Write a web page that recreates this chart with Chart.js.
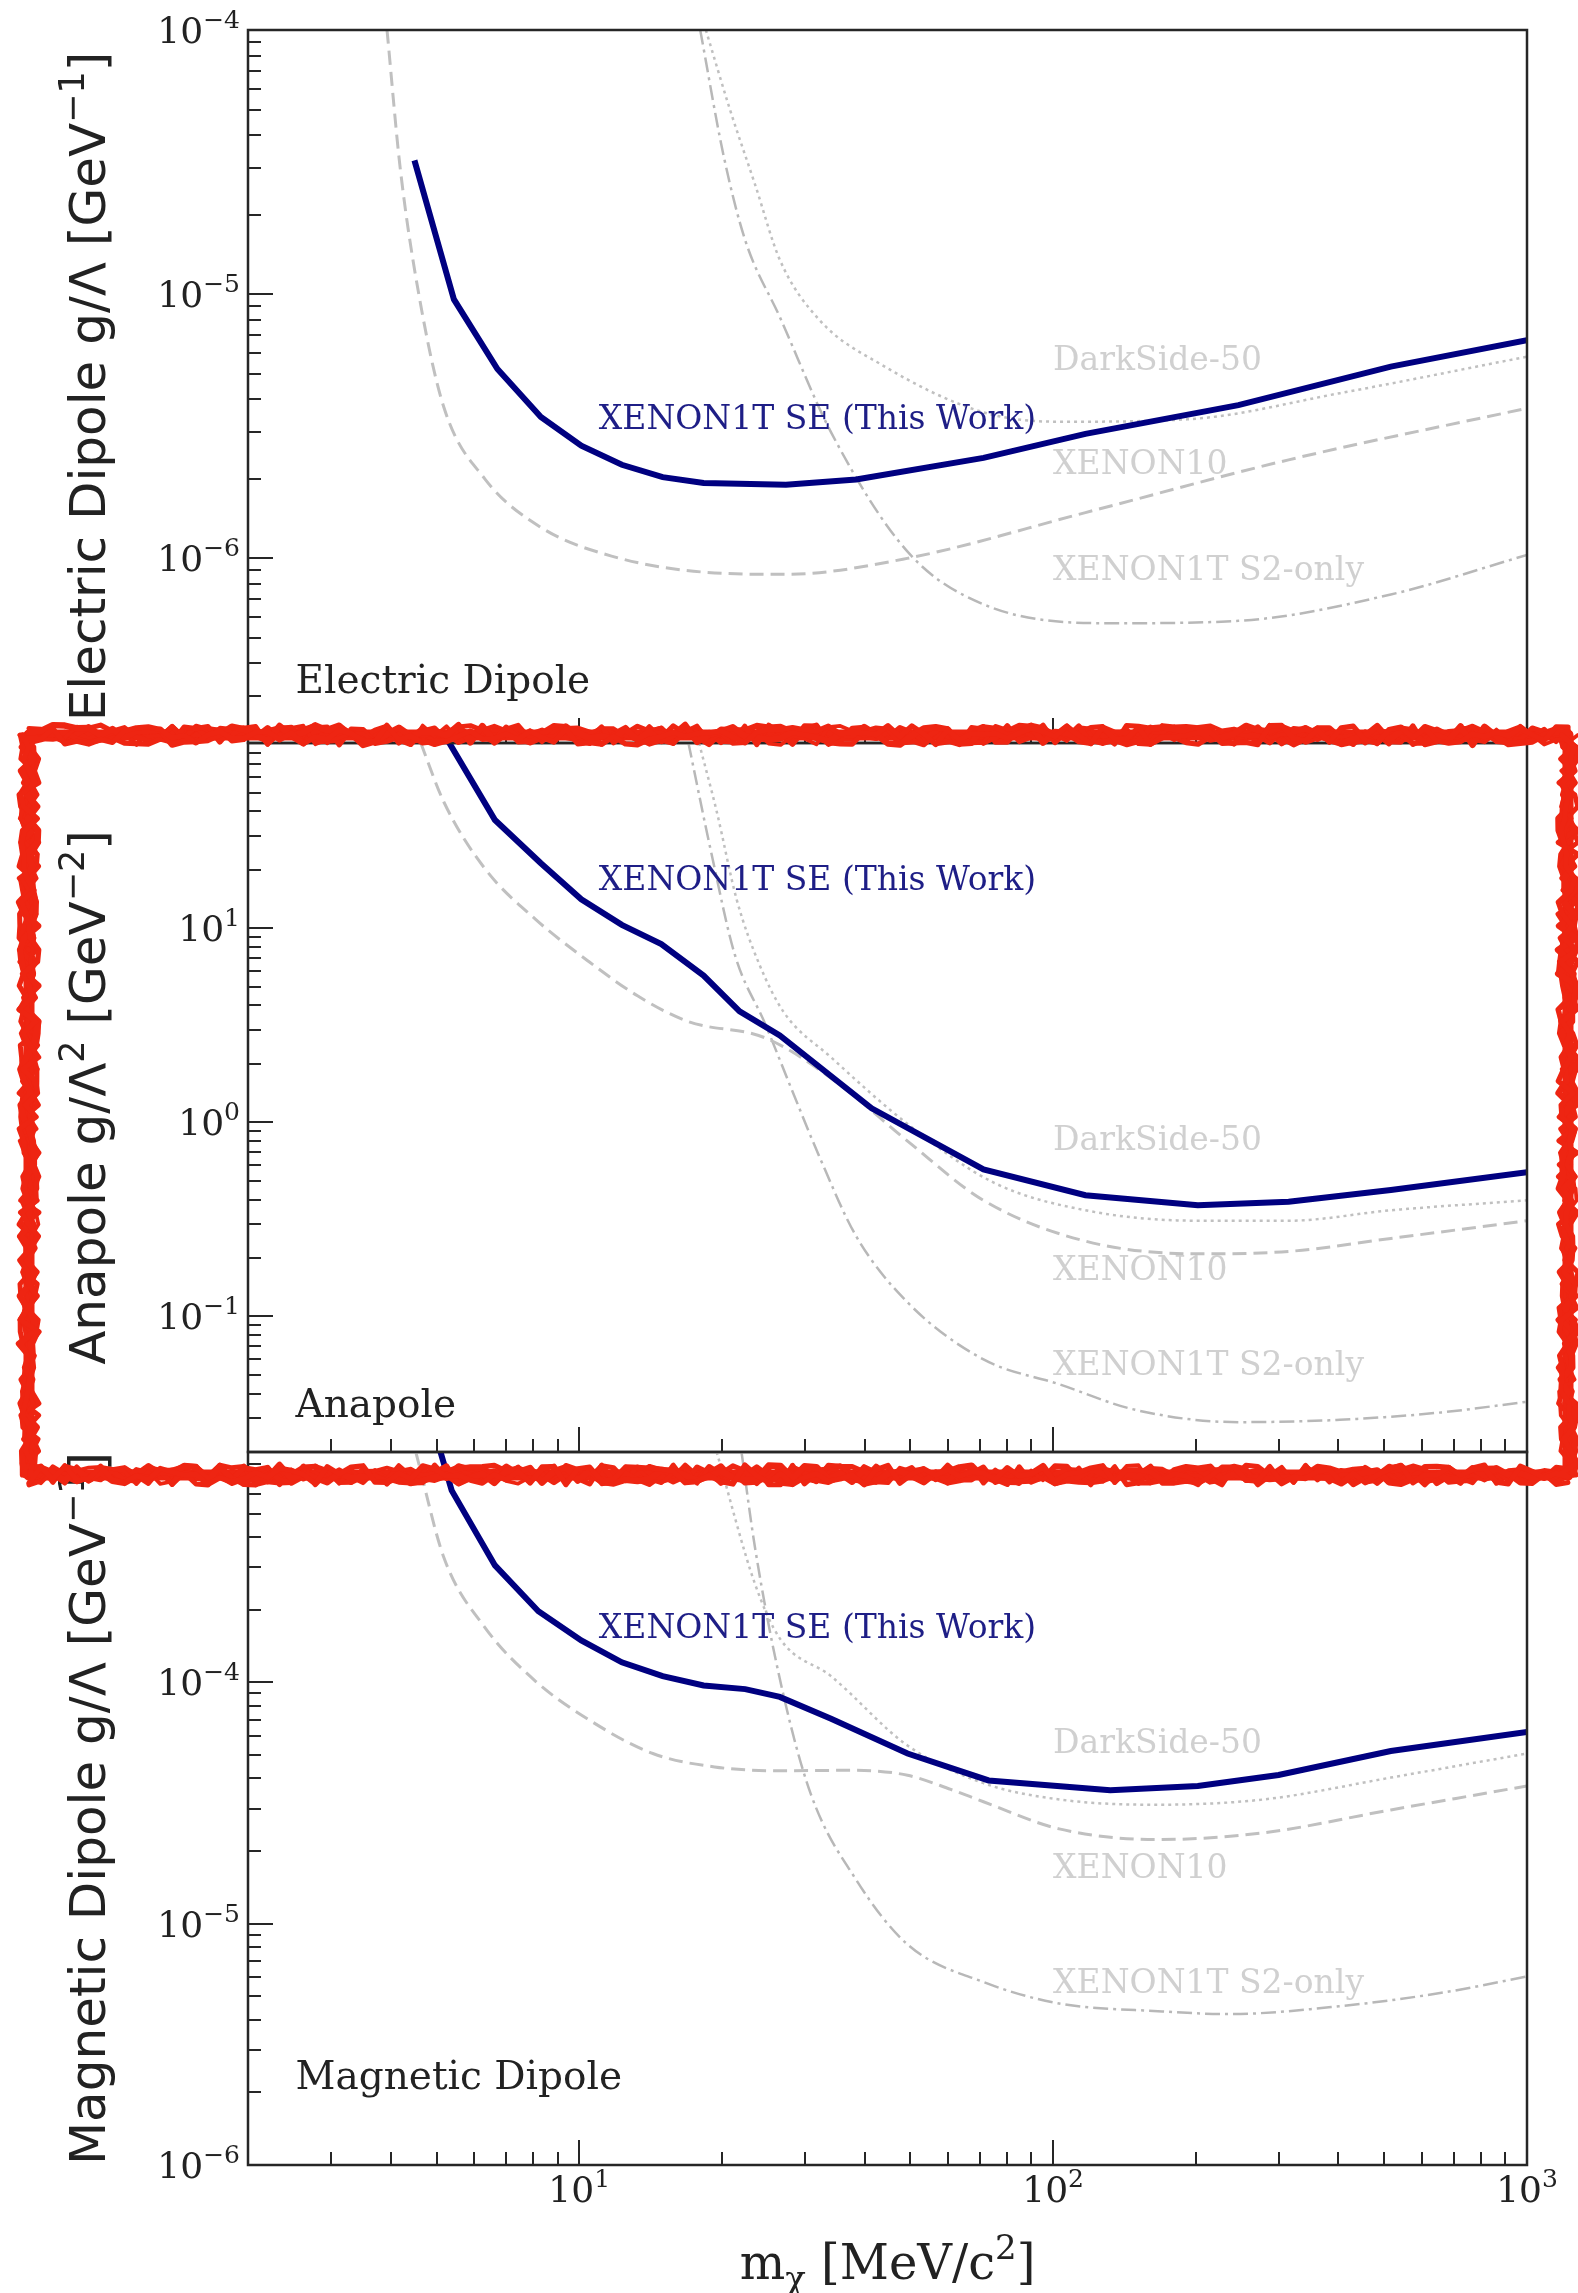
<!DOCTYPE html>
<html>
<head>
<meta charset="utf-8">
<script src="https://cdn.jsdelivr.net/npm/chart.js@4.4.1/dist/chart.umd.min.js"></script>
<style>
html, body { margin: 0; padding: 0; background: #fff; }
#wrap { position: relative; width: 1578px; height: 2293px; }
#wrap canvas { position: absolute; left: 0; top: 0; }
</style>
</head>
<body>
<div id="wrap">
  <canvas id="c1" width="1578" height="2293"></canvas>
  <canvas id="c2" width="1578" height="2293"></canvas>
  <canvas id="c3" width="1578" height="2293"></canvas>
</div>
<script>
// ---------------- data (mass in MeV/c^2, coupling limits) ----------------
const xMin = 2, xMax = 1000;
const xTickExp = [1, 2, 3];

// Electric dipole
const elecRange = [2e-7, 1e-4];
const elecTickExp = [-4, -5, -6];
const elecSE_m  = [4.49, 5.44, 6.72, 8.30, 10.1, 12.3, 15.0, 18.3, 27.3, 38.4, 71.3, 117, 246, 516, 1000];
const elecSE_v  = [3.21e-5, 9.55e-6, 5.21e-6, 3.43e-6, 2.67e-6, 2.26e-6, 2.03e-6, 1.93e-6, 1.90e-6, 1.99e-6, 2.40e-6, 2.96e-6, 3.80e-6, 5.32e-6, 6.70e-6];
const elecX10_m = [3.93, 4.19, 4.60, 5.18, 6.32, 8.30, 11.7, 19.3, 27.3, 49.2, 117, 314, 1000];
const elecX10_v = [1.0e-4, 3.0e-5, 9.7e-6, 3.73e-6, 2.0e-6, 1.31e-6, 1.02e-6, 8.81e-7, 8.7e-7, 1.0e-6, 1.49e-6, 2.36e-6, 3.70e-6];
const elecDS_m  = [18.5, 20.8, 23.5, 26.5, 32.1, 43.5, 71.3, 103, 192, 403, 1000];
const elecDS_v  = [1.0e-4, 5.0e-5, 2.6e-5, 1.35e-5, 8.0e-6, 5.4e-6, 3.57e-6, 3.29e-6, 3.36e-6, 4.22e-6, 5.8e-6];
const elecS2_m  = [18.0, 20.2, 22.4, 26.5, 34.0, 49.3, 71.3, 132, 246, 516, 1000];
const elecS2_v  = [1.0e-4, 3.3e-5, 1.6e-5, 8.2e-6, 3.0e-6, 1.06e-6, 6.7e-7, 5.68e-7, 5.8e-7, 7.3e-7, 1.03e-6];

// Anapole
const anaRange = [0.02, 90];
const anaTickExp = [1, 0, -1];
const anaSE_m  = [5.25, 6.64, 8.30, 10.1, 12.3, 14.9, 18.3, 21.8, 26.5, 41.4, 71.3, 117, 202, 314, 516, 1000];
const anaSE_v  = [95, 36.1, 21.6, 14.1, 10.4, 8.28, 5.70, 3.73, 2.80, 1.18, 0.571, 0.421, 0.374, 0.39, 0.448, 0.553];
const anaX10_m = [4.63, 5.18, 6.32, 8.09, 10.4, 13.3, 17.0, 24.7, 35.0, 49.3, 71.3, 117, 202, 314, 516, 1000];
const anaX10_v = [90, 44.7, 20.3, 11.1, 6.82, 4.47, 3.30, 2.72, 1.6, 0.80, 0.396, 0.244, 0.21, 0.216, 0.252, 0.311];
const anaDS_m  = [17.9, 19.5, 21.5, 24.0, 27.0, 34.0, 49.3, 74.8, 117, 202, 314, 516, 1000];
const anaDS_v  = [90, 40, 14, 6.5, 3.7, 2.16, 0.98, 0.49, 0.352, 0.311, 0.311, 0.352, 0.396];
const anaS2_m  = [17.0, 19.0, 21.3, 24.7, 28.0, 32.3, 38.4, 49.3, 71.3, 103, 149, 246, 403, 660, 1000];
const anaS2_v  = [90, 24.4, 7.3, 3.2, 1.5, 0.644, 0.259, 0.118, 0.060, 0.0447, 0.033, 0.0285, 0.0293, 0.032, 0.0363];

// Magnetic dipole
const magRange = [1e-6, 9e-4];
const magTickExp = [-4, -5, -6];
const magSE_m  = [5.08, 5.38, 6.64, 8.20, 10.1, 12.3, 15.0, 18.3, 22.4, 26.5, 34.0, 49.3, 73.1, 132, 202, 299, 516, 1000];
const magSE_v  = [9.2e-4, 6.24e-4, 3.05e-4, 1.97e-4, 1.49e-4, 1.21e-4, 1.06e-4, 9.7e-5, 9.37e-5, 8.7e-5, 7.06e-5, 5.07e-5, 3.92e-5, 3.57e-5, 3.72e-5, 4.13e-5, 5.19e-5, 6.22e-5];
const magX10_m = [4.52, 5.18, 6.32, 8.09, 10.4, 14.3, 19.3, 26.6, 38.0, 49.3, 60.8, 71.3, 103, 165, 278, 516, 1000];
const magX10_v = [9e-4, 3.29e-4, 1.69e-4, 1.01e-4, 7.06e-5, 5.07e-5, 4.46e-5, 4.3e-5, 4.32e-5, 4.12e-5, 3.6e-5, 3.2e-5, 2.47e-5, 2.23e-5, 2.38e-5, 2.96e-5, 3.72e-5];
const magDS_m  = [19.5, 23.5, 26.5, 34.0, 49.3, 71.3, 103, 165, 278, 516, 1000];
const magDS_v  = [9e-4, 2.55e-4, 1.52e-4, 1.06e-4, 5.47e-5, 3.82e-5, 3.27e-5, 3.11e-5, 3.27e-5, 4.03e-5, 5.07e-5];
const magS2_m  = [22.0, 23.5, 26.6, 30.8, 38.4, 49.3, 71.3, 103, 170, 234, 403, 660, 1000];
const magS2_v  = [9e-4, 3.6e-4, 1.0e-4, 3.45e-5, 1.52e-5, 8.2e-6, 5.73e-6, 4.67e-6, 4.33e-6, 4.22e-6, 4.55e-6, 5.17e-6, 6.04e-6];

// ---------------- layout / styles ----------------
const W = 1578, H = 2293;
const AREA_LEFT = 248, AREA_RIGHT = 1527;
const panelEdges = [30, 743, 1452, 2165];

const NAVY = '#000080', NAVY_TXT = '#1e1e86', GRAY = '#c0c0c0', GRAY_TXT = '#d0d0d0', INK = '#222';
const SERIF = '"DejaVu Serif"', SANS = '"DejaVu Sans"';

const lineStyles = {
  se:  { borderColor: NAVY, borderWidth: 6, borderDash: [], tension: 0 },
  x10: { borderColor: GRAY, borderWidth: 3, borderDash: [14, 7], cubicInterpolationMode: 'monotone' },
  ds:  { borderColor: GRAY, borderWidth: 2.5, borderDash: [3, 4], cubicInterpolationMode: 'monotone' },
  s2:  { borderColor: '#b8b8b8', borderWidth: 2.5, borderDash: [15, 5, 3, 5], cubicInterpolationMode: 'monotone' }
};

const pts = (m, v) => m.map((x, i) => ({ x: x, y: v[i] }));

const panels = [
  {
    id: 'c1', range: elecRange, tickExp: elecTickExp,
    series: { se: pts(elecSE_m, elecSE_v), x10: pts(elecX10_m, elecX10_v), ds: pts(elecDS_m, elecDS_v), s2: pts(elecS2_m, elecS2_v) },
    ylabel: [{ t: 'Electric Dipole g/\u039b [GeV' }, { t: '\u22121', sup: true }, { t: ']' }],
    texts: [
      { t: 'XENON1T SE (This Work)', m: 11.0, v: 3.32e-6, c: NAVY_TXT, s: 33 },
      { t: 'DarkSide-50', m: 100, v: 5.55e-6, c: GRAY_TXT, s: 33 },
      { t: 'XENON10', m: 100, v: 2.24e-6, c: GRAY_TXT, s: 33 },
      { t: 'XENON1T S2-only', m: 100, v: 8.9e-7, c: GRAY_TXT, s: 33 },
      { t: 'Electric Dipole', m: 2.52, v: 3.37e-7, c: INK, s: 39 }
    ]
  },
  {
    id: 'c2', range: anaRange, tickExp: anaTickExp,
    series: { se: pts(anaSE_m, anaSE_v), x10: pts(anaX10_m, anaX10_v), ds: pts(anaDS_m, anaDS_v), s2: pts(anaS2_m, anaS2_v) },
    ylabel: [{ t: 'Anapole g/\u039b' }, { t: '2', sup: true }, { t: ' [GeV' }, { t: '\u22122', sup: true }, { t: ']' }],
    texts: [
      { t: 'XENON1T SE (This Work)', m: 11.0, v: 17.5, c: NAVY_TXT, s: 33 },
      { t: 'DarkSide-50', m: 100, v: 0.798, c: GRAY_TXT, s: 33 },
      { t: 'XENON10', m: 100, v: 0.170, c: GRAY_TXT, s: 33 },
      { t: 'XENON1T S2-only', m: 100, v: 0.0555, c: GRAY_TXT, s: 33 },
      { t: 'Anapole', m: 2.52, v: 0.0341, c: INK, s: 39 }
    ]
  },
  {
    id: 'c3', range: magRange, tickExp: magTickExp, last: true,
    series: { se: pts(magSE_m, magSE_v), x10: pts(magX10_m, magX10_v), ds: pts(magDS_m, magDS_v), s2: pts(magS2_m, magS2_v) },
    ylabel: [{ t: 'Magnetic Dipole g/\u039b [GeV' }, { t: '\u22121', sup: true }, { t: ']' }],
    texts: [
      { t: 'XENON1T SE (This Work)', m: 11.0, v: 1.65e-4, c: NAVY_TXT, s: 33 },
      { t: 'DarkSide-50', m: 100, v: 5.52e-5, c: GRAY_TXT, s: 33 },
      { t: 'XENON10', m: 100, v: 1.68e-5, c: GRAY_TXT, s: 33 },
      { t: 'XENON1T S2-only', m: 100, v: 5.58e-6, c: GRAY_TXT, s: 33 },
      { t: 'Magnetic Dipole', m: 2.52, v: 2.28e-6, c: INK, s: 39 }
    ]
  }
];

// ---------------- helpers ----------------
function logTicks(lo, hi) {
  const out = [];
  for (let e = Math.floor(Math.log10(lo)); e <= Math.ceil(Math.log10(hi)); e++) {
    for (let k = 1; k <= 9; k++) {
      const v = k * Math.pow(10, e);
      if (v >= lo * 0.9999 && v <= hi * 1.0001) out.push({ v: v, major: k === 1 });
    }
  }
  return out;
}

const fontOf = (pt, size, fam) => ((pt.sup || pt.sub) ? Math.round(size * 0.7) : size) + 'px ' + fam;

function richWidth(ctx, parts, size, fam) {
  let w = 0;
  parts.forEach(pt => { ctx.font = fontOf(pt, size, fam); w += ctx.measureText(pt.t).width; });
  return w;
}

function drawRich(ctx, parts, x, y, size, fam) {
  parts.forEach(pt => {
    ctx.font = fontOf(pt, size, fam);
    const dy = pt.sup ? -0.42 * size : (pt.sub ? 0.22 * size : 0);
    ctx.fillText(pt.t, x, y + dy);
    x += ctx.measureText(pt.t).width;
  });
}

const powParts = e => [{ t: '10' }, { t: (e < 0 ? '\u2212' : '') + Math.abs(e), sup: true }];

function mulberry32(a) {
  return function () {
    a |= 0; a = a + 0x6D2B79F5 | 0;
    let t = Math.imul(a ^ a >>> 15, 1 | a);
    t = t + Math.imul(t ^ t >>> 7, 61 | t) ^ t;
    return ((t ^ t >>> 14) >>> 0) / 4294967296;
  };
}

// hand drawn red frame around the middle panel
function scribbleRect(ctx, x0, y0, x1, y1) {
  const rnd = mulberry32(11);
  const edges = [[x0, y0, x1, y0], [x1, y0, x1, y1], [x1, y1, x0, y1], [x0, y1, x0, y0]];
  ctx.save();
  ctx.strokeStyle = '#ee2512';
  ctx.lineCap = 'round';
  ctx.lineJoin = 'round';
  ctx.lineWidth = 11;
  ctx.strokeRect(x0, y0, x1 - x0, y1 - y0);
  for (let pass = 0; pass < 7; pass++) {
    ctx.lineWidth = 3 + rnd() * 4;
    ctx.beginPath();
    edges.forEach(([ax, ay, bx, by]) => {
      const len = Math.hypot(bx - ax, by - ay), n = Math.ceil(len / 12);
      const nx = -(by - ay) / len, ny = (bx - ax) / len;
      for (let i = 0; i <= n; i++) {
        const t = i / n, off = (rnd() - 0.5) * 20;
        const px = ax + (bx - ax) * t + nx * off, py = ay + (by - ay) * t + ny * off;
        if (i === 0) ctx.moveTo(px, py); else ctx.lineTo(px, py);
      }
    });
    ctx.stroke();
  }
  ctx.restore();
}

function panelPlugin(p) {
  return {
    id: 'panelDecor',
    afterDraw(chart) {
      const ctx = chart.ctx, a = chart.chartArea;
      const xs = chart.scales.x, ys = chart.scales.y;
      ctx.save();

      // frame and inward ticks
      ctx.strokeStyle = '#262626';
      ctx.lineWidth = 2.5;
      ctx.strokeRect(a.left, a.top, a.right - a.left, a.bottom - a.top);
      ctx.lineWidth = 2;
      ctx.beginPath();
      logTicks(p.range[0], p.range[1]).forEach(t => {
        const y = Math.round(ys.getPixelForValue(t.v));
        ctx.moveTo(a.left, y); ctx.lineTo(a.left + (t.major ? 25 : 13), y);
      });
      logTicks(xMin, xMax).forEach(t => {
        const x = Math.round(xs.getPixelForValue(t.v));
        ctx.moveTo(x, a.bottom); ctx.lineTo(x, a.bottom - (t.major ? 25 : 13));
      });
      ctx.stroke();

      // y tick labels
      ctx.fillStyle = INK;
      ctx.textAlign = 'left';
      ctx.textBaseline = 'alphabetic';
      p.tickExp.forEach(e => {
        const y = ys.getPixelForValue(Math.pow(10, e));
        const parts = powParts(e);
        const w = richWidth(ctx, parts, 36, SERIF);
        drawRich(ctx, parts, a.left - 8 - w, y + 13, 36, SERIF);
      });

      // y axis title
      ctx.save();
      ctx.translate(105, (a.top + a.bottom) / 2);
      ctx.rotate(-Math.PI / 2);
      const wl = richWidth(ctx, p.ylabel, 50, SANS);
      drawRich(ctx, p.ylabel, -wl / 2, 0, 50, SANS);
      ctx.restore();

      // curve labels
      ctx.textBaseline = 'middle';
      p.texts.forEach(tx => {
        ctx.fillStyle = tx.c;
        ctx.font = tx.s + 'px ' + SERIF;
        ctx.fillText(tx.t, xs.getPixelForValue(tx.m), ys.getPixelForValue(tx.v));
      });

      if (p.last) {
        ctx.fillStyle = INK;
        ctx.textBaseline = 'alphabetic';
        xTickExp.forEach(e => {
          const x = xs.getPixelForValue(Math.pow(10, e));
          const parts = powParts(e);
          const w = richWidth(ctx, parts, 36, SERIF);
          drawRich(ctx, parts, x - w / 2, a.bottom + 37, 36, SERIF);
        });
        const xl = [{ t: 'm' }, { t: '\u03c7', sub: true }, { t: ' [MeV/c' }, { t: '2', sup: true }, { t: ']' }];
        const wx = richWidth(ctx, xl, 48, SERIF);
        drawRich(ctx, xl, (a.left + a.right) / 2 - wx / 2, 2279, 48, SERIF);

        scribbleRect(ctx, 29, 735, 1568, 1475);
      }
      ctx.restore();
    }
  };
}

// ---------------- charts ----------------
panels.forEach((p, i) => {
  const top = panelEdges[i], bottom = panelEdges[i + 1];
  const ds = ['se', 'x10', 'ds', 's2'].map(k => Object.assign({
    data: p.series[k],
    pointRadius: 0,
    fill: false,
    clip: 0
  }, lineStyles[k]));

  new Chart(document.getElementById(p.id), {
    type: 'line',
    data: { datasets: ds },
    options: {
      responsive: false,
      animation: false,
      devicePixelRatio: 1,
      events: [],
      layout: { padding: { left: AREA_LEFT, right: W - AREA_RIGHT, top: top, bottom: H - bottom } },
      plugins: { legend: { display: false }, tooltip: { enabled: false } },
      scales: {
        x: { type: 'logarithmic', min: xMin, max: xMax, display: false },
        y: { type: 'logarithmic', min: p.range[0], max: p.range[1], display: false }
      }
    },
    plugins: [panelPlugin(p)]
  });
});
</script>
</body>
</html>
